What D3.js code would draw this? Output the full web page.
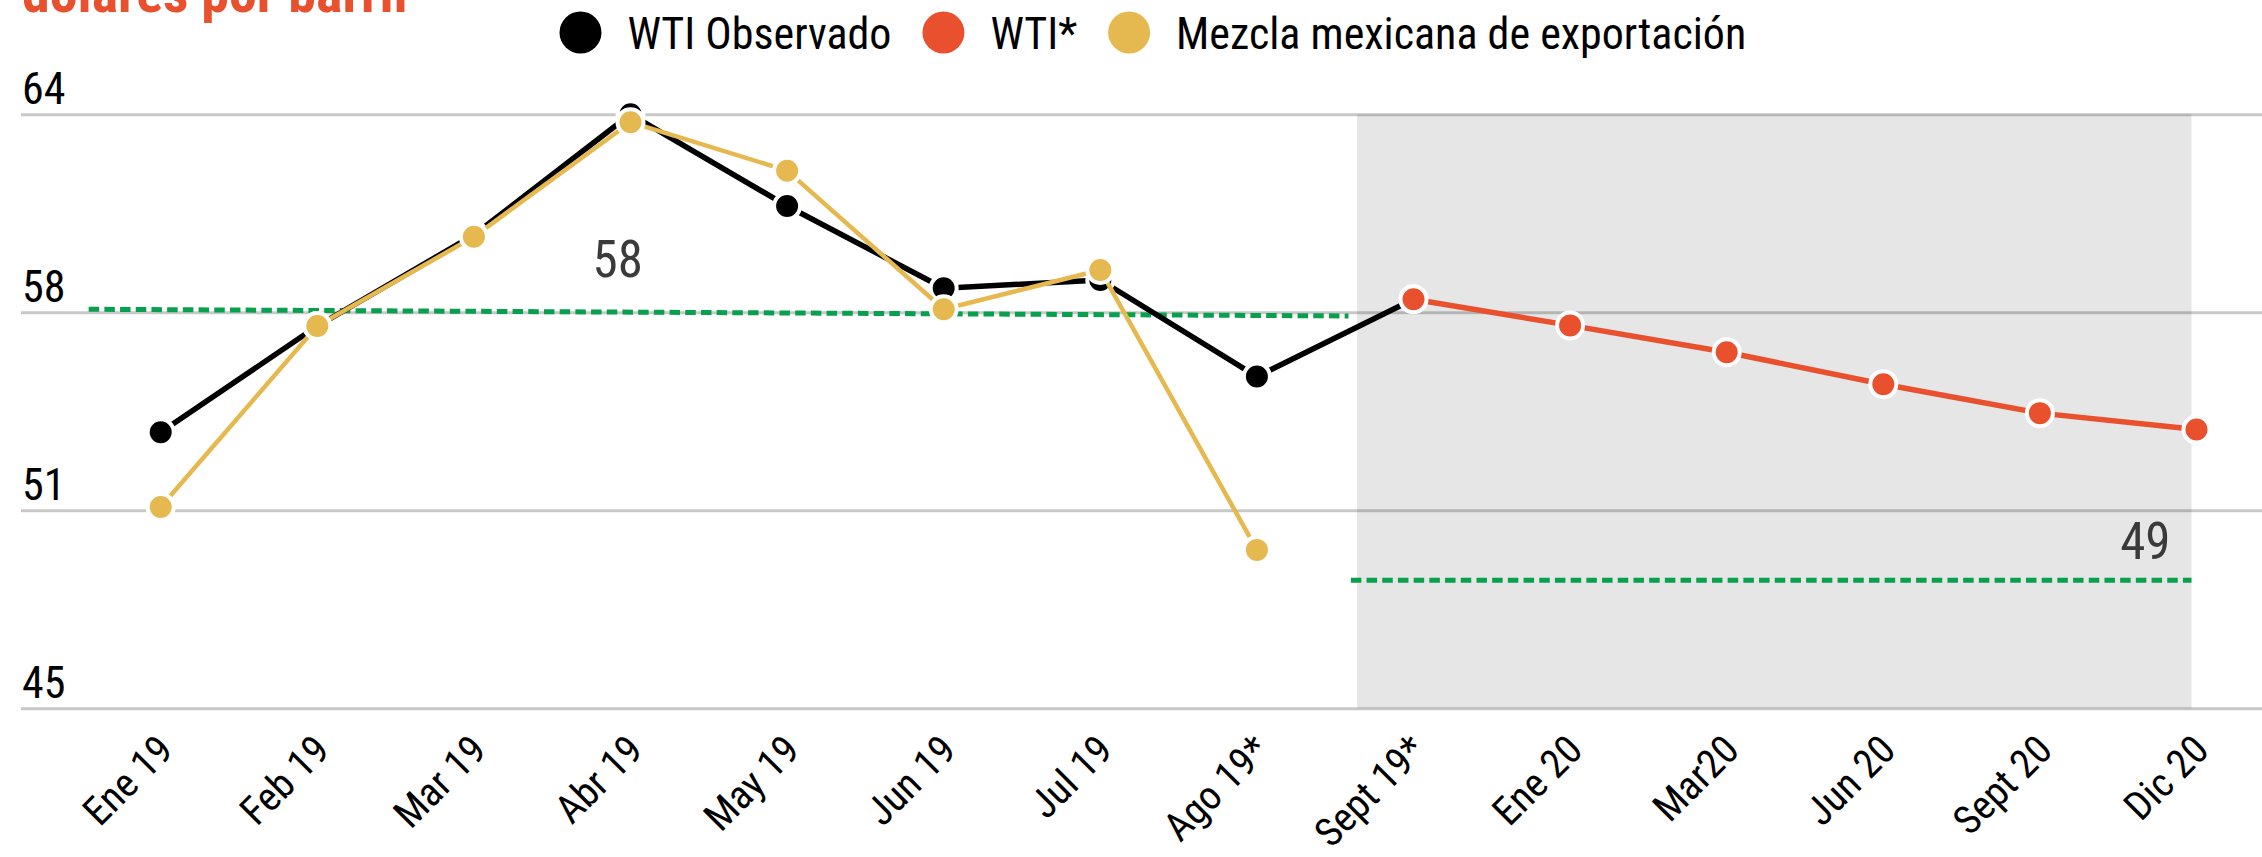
<!DOCTYPE html>
<html>
<head>
<meta charset="utf-8">
<script src="https://cdn.jsdelivr.net/npm/d3@7"></script>
<style>
  body { margin: 0; background: #fff; }
  svg text { font-family: Roboto, sans-serif; font-stretch: condensed; }
</style>
</head>
<body>
<div id="chart"></div>
<script>
// meses (eje x)
const categories = ['Ene 19', 'Feb 19', 'Mar 19', 'Abr 19', 'May 19', 'Jun 19', 'Jul 19',
  'Ago 19*', 'Sept 19*', 'Ene 20', 'Mar20', 'Jun 20', 'Sept 20', 'Dic 20']

// dólares por barril
const wtiObservado = [53.56, 57.05, 60.04, 64.0, 60.99, 58.29, 58.56, 55.39, 57.93]
const wtiEstimado = [null, null, null, null, null, null, null, null, 57.93, 57.07, 56.19, 55.14, 54.19, 53.65]
const mezcla = [51.11, 57.05, 59.98, 63.74, 62.15, 57.60, 58.89, 49.70]

// precios de referencia (inicio, fin)
const ref2019 = [57.6, 57.38]
const ref2020 = [48.7, 48.7]
const refLabels = ['58', '49']

const yTicks = [44.5, 51, 57.5, 64]
const yDomain = [44.5, 64]

const legendItems = [
  { name: 'WTI Observado', color: '#000000' },
  { name: 'WTI*', color: '#e8502e' },
  { name: 'Mezcla mexicana de exportación', color: '#e5b950' }
]

const width = 2262
const height = 857
const green = '#07a04c'

const svg = d3.select('#chart')
  .append('svg')
  .attr('width', width)
  .attr('height', height)

const x = d3.scalePoint()
  .domain(categories)
  .range([160.7, 2196.5])

const y = d3.scaleLinear()
  .domain(yDomain)
  .range([708.3, 114.3])

const step = x.step()

// titulo (cortado arriba, como en el original)
svg.append('text')
  .attr('x', 22)
  .attr('y', 12)
  .attr('fill', '#e8502e')
  .style('font-size', '56px')
  .style('font-weight', 'bold')
  .text('dólares por barril')

// leyenda
const legend = svg.append('g').attr('class', 'legend')
let lx = 580.5
legendItems.forEach(item => {
  legend.append('circle')
    .attr('cx', lx)
    .attr('cy', 32.5)
    .attr('r', 21)
    .attr('fill', item.color)
  const t = legend.append('text')
    .attr('x', lx + 47)
    .attr('y', 49)
    .attr('fill', '#000')
    .style('font-size', '44px')
    .text(item.name)
  lx = lx + 47 + t.node().getComputedTextLength() + 31 + 21
})

// zona de pronostico
svg.append('rect')
  .attr('x', x('Sept 19*') - 0.36 * step)
  .attr('y', y(yDomain[1]))
  .attr('width', x('Dic 20') - 5 - (x('Sept 19*') - 0.36 * step))
  .attr('height', y(yDomain[0]) - y(yDomain[1]))
  .attr('fill', '#e6e6e6')

// eje y
const yAxis = svg.append('g')
  .attr('class', 'y-axis')
  .call(d3.axisRight(y)
    .tickValues(yTicks)
    .tickSize(width - 21)
    .tickFormat(d => Math.round(d)))
  .attr('transform', 'translate(21,0)')
yAxis.select('.domain').remove()
yAxis.selectAll('.tick line')
  .attr('stroke', 'rgba(0,0,0,0.215)')
  .attr('stroke-width', 3)
yAxis.selectAll('.tick text')
  .attr('x', 1)
  .attr('dy', -11)
  .attr('text-anchor', 'start')
  .attr('fill', '#000')
  .style('font-size', '44px')

// eje x
const xAxis = svg.append('g')
  .attr('class', 'x-axis')
  .attr('transform', 'translate(0,' + y(yDomain[0]) + ')')
  .call(d3.axisBottom(x).tickSize(0))
xAxis.select('.domain').remove()
xAxis.selectAll('.tick text')
  .attr('x', 0)
  .attr('y', 0)
  .attr('dy', 0)
  .attr('text-anchor', 'end')
  .attr('transform', 'translate(14,44) rotate(-45)')
  .attr('fill', '#000')
  .style('font-size', '40px')

// lineas de referencia
const refs = [
  { v: ref2019, x0: x('Ene 19') - 0.46 * step, x1: x('Sept 19*') - 0.415 * step, label: refLabels[0] },
  { v: ref2020, x0: x('Sept 19*') - 0.4 * step, x1: x('Dic 20') - 5, label: refLabels[1] }
]
svg.append('g')
  .attr('class', 'refs')
  .selectAll('line')
  .data(refs)
  .enter()
  .append('line')
  .attr('x1', d => d.x0)
  .attr('x2', d => d.x1)
  .attr('y1', d => y(d.v[0]))
  .attr('y2', d => y(d.v[1]))
  .attr('stroke', green)
  .attr('stroke-width', 5)
  .attr('stroke-dasharray', '10.5,5.2')

svg.append('text')
  .attr('x', x('Abr 19') - 38)
  .attr('y', y(ref2019[0]) - 32)
  .attr('fill', '#3a3a3a')
  .style('font-size', '51px')
  .text(refLabels[0])
svg.append('text')
  .attr('x', x('Dic 20') - 26)
  .attr('y', y(ref2020[0]) - 21)
  .attr('text-anchor', 'end')
  .attr('fill', '#3a3a3a')
  .style('font-size', '51px')
  .text(refLabels[1])

// series
const series = [
  { values: wtiObservado, color: '#000000', width: 5.5 },
  { values: mezcla, color: '#e5b950', width: 4.5 },
  { values: wtiEstimado, color: '#e8502e', width: 5.5 }
]

const line = d3.line()
  .defined(d => d.v != null)
  .x(d => x(d.c))
  .y(d => y(d.v))

series.forEach(s => {
  const pts = s.values.map((v, i) => ({ c: categories[i], v: v }))
  const g = svg.append('g').attr('class', 'series')
  g.append('path')
    .datum(pts)
    .attr('d', line)
    .attr('fill', 'none')
    .attr('stroke', s.color)
    .attr('stroke-width', s.width)
    .attr('stroke-linejoin', 'round')
  g.selectAll('circle')
    .data(pts.filter(d => d.v != null))
    .enter()
    .append('circle')
    .attr('cx', d => x(d.c))
    .attr('cy', d => y(d.v))
    .attr('r', 13)
    .attr('fill', s.color)
    .attr('stroke', '#fff')
    .attr('stroke-width', 4)
})
</script>
</body>
</html>
